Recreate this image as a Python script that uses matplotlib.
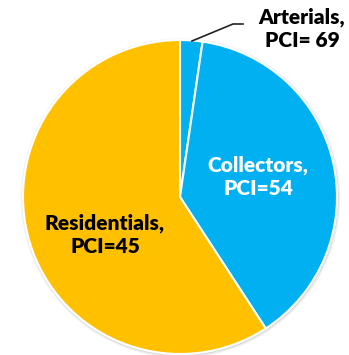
import matplotlib
matplotlib.use("Agg")
import matplotlib.pyplot as plt
from matplotlib.patches import Circle

categories = ["Arterials", "Collectors", "Residentials"]
pci = [69, 54, 45]
shares = [2.3, 38.5, 59.2]
colors = ["#00B0F0", "#00B0F0", "#FFC000"]

W, H = 349, 355
fig = plt.figure(figsize=(W / 100, H / 100), dpi=100)
ax = fig.add_axes([0, 0, 1, 1])

cx, cy, r = 180, H - 197, 157
# soft shadow
for k, a in [(3.0, 0.06), (2.0, 0.10), (1.0, 0.16)]:
    ax.add_patch(Circle((cx + 0.5, cy - 1), r + k, color="gray", alpha=a, lw=0, zorder=0))

ax.pie(shares, colors=colors, startangle=90, counterclock=False,
       center=(cx, cy), radius=r, frame=True,
       wedgeprops=dict(edgecolor="white", linewidth=1.5))
ax.set_xlim(0, W)
ax.set_ylim(0, H)
ax.set_aspect("equal")
ax.axis("off")

font = dict(family=["Lato", "DejaVu Sans"], fontweight="heavy", fontsize=15,
            ha="center", va="center", linespacing=1.25)
ax.text(258, H - 177, f"{categories[1]},\nPCI={pci[1]}", color="white", **font)
ax.text(105, H - 235, f"{categories[2]},\nPCI={pci[2]}", color="black", **font)
ax.text(302, H - 29, f"{categories[0]},\nPCI= {pci[0]}", color="black", **font)
ax.plot([192, 233, 243], [H - 41, H - 24, H - 24], color="#222222", lw=1.2, zorder=5)

fig.savefig("out.png", dpi=100)
